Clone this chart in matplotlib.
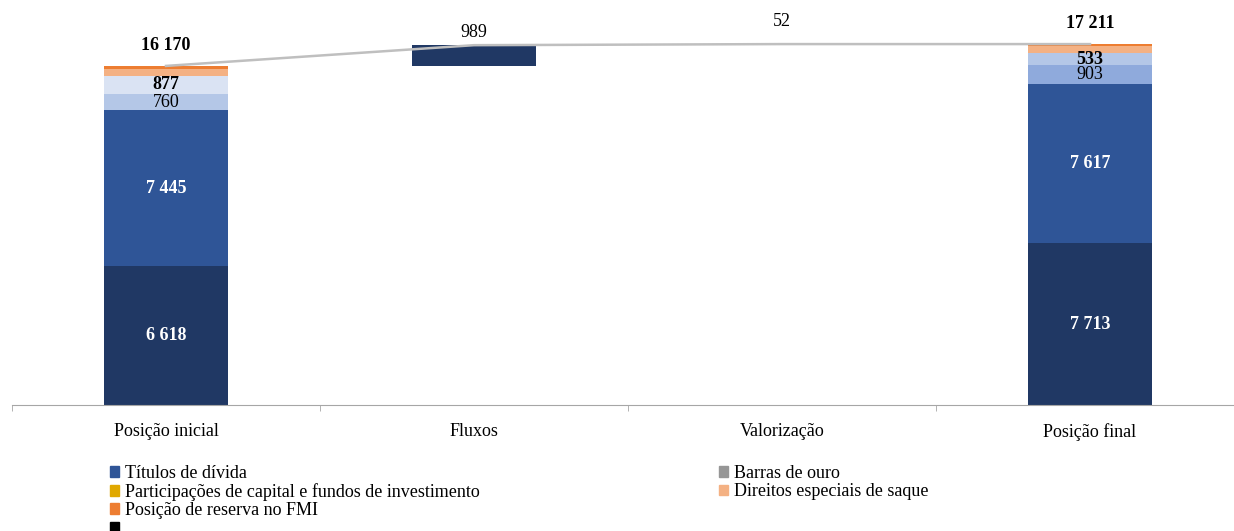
import matplotlib
matplotlib.use("Agg")
import matplotlib.pyplot as plt
from matplotlib.patches import Patch

plt.rcParams['font.family'] = ['Liberation Serif', 'DejaVu Serif']

# dados (milhões)
categorias = ["Posição inicial", "Fluxos", "Valorização", "Posição final"]
pos_inicial = [6618, 7445, 760, 877, 340, 130]
pos_final = [7713, 7617, 903, 533, 345, 100]
fluxos = 989
valorizacao = 52
total_inicial = 16170
total_final = 17211

cores_inicial = ['#203864', '#2F5597', '#B4C7E7', '#DAE3F3', '#F4B183', '#ED7D31']
cores_final = ['#203864', '#2F5597', '#8FAADC', '#B4C7E7', '#F4B183', '#ED7D31']
# (cor do texto, negrito) por segmento; None = sem rótulo
estilo_rotulos = [('white', True), ('white', True), ('black', False),
                  ('black', True), None, None]

legenda_esq = [("Títulos de dívida", '#2F5597'),
               ("Participações de capital e fundos de investimento", '#E0A800'),
               ("Posição de reserva no FMI", '#ED7D31'),
               ("", '#000000')]
legenda_dir = [("Barras de ouro", '#969696'),
               ("Direitos especiais de saque", '#F4B183')]

FS = 13


def fmt(v):
    return f"{v:,}".replace(",", " ")


fig = plt.figure(figsize=(12.34, 5.31), dpi=100)
ax = fig.add_axes([12 / 1234, 126 / 531, 1232 / 1234, 405 / 531])

largura = 0.405


def empilhar(x, valores, cores):
    base = 0
    for v, c, est in zip(valores, cores, estilo_rotulos):
        ax.bar(x, v, largura, bottom=base, color=c, zorder=2)
        if est is not None:
            cor, negrito = est
            ax.text(x, base + v / 2, fmt(v), ha='center', va='center',
                    color=cor, fontsize=FS,
                    fontweight='bold' if negrito else 'normal', zorder=4)
        base += v


empilhar(0, pos_inicial, cores_inicial)
empilhar(3, pos_final, cores_final)

# barras flutuantes
ax.bar(1, fluxos, largura, bottom=total_inicial, color='#203864', zorder=2)
ax.bar(2, valorizacao, largura, bottom=total_inicial + fluxos,
       color='#000000', zorder=2)

# linha de ligação
niveis = [total_inicial, total_inicial + fluxos,
          total_inicial + fluxos + valorizacao, total_final]
ax.plot(range(4), niveis, color='#BFBFBF', lw=1.8, zorder=3)

# rótulos superiores
ax.annotate(fmt(total_inicial), (0, total_inicial), xytext=(0, 15),
            textcoords='offset points', ha='center', va='center',
            fontsize=FS, fontweight='bold')
ax.annotate(fmt(total_final), (3, total_final), xytext=(0, 15),
            textcoords='offset points', ha='center', va='center',
            fontsize=FS, fontweight='bold')
ax.annotate(fmt(fluxos), (1, total_inicial + fluxos), xytext=(0, 9),
            textcoords='offset points', ha='center', va='center', fontsize=FS)
ax.annotate(fmt(valorizacao), (2, total_inicial + fluxos + valorizacao),
            xytext=(0, 16), textcoords='offset points', ha='center',
            va='center', fontsize=FS)

ax.set_xlim(-0.5, 3.5)
ax.set_ylim(0, 405 / 0.02097)
for s in ['top', 'right', 'left']:
    ax.spines[s].set_visible(False)
ax.spines['bottom'].set_color('#A6A6A6')
ax.set_yticks([])
ax.set_xticks(range(4))
ax.set_xticklabels(categorias, fontsize=FS)
ax.tick_params(axis='x', which='major', length=0, pad=13)
ax.set_xticks([-0.5, 0.5, 1.5, 2.5, 3.5], minor=True)
ax.tick_params(axis='x', which='minor', length=4, color='#A6A6A6',
               direction='out')

# legenda em duas colunas desiguais
opts = dict(loc='upper left', frameon=False, fontsize=FS, borderpad=0,
            borderaxespad=0, labelspacing=0.06, handlelength=0.5,
            handleheight=0.5, handletextpad=0.35)
h1 = [Patch(color=c) for _, c in legenda_esq]
fig.legend(h1, [t for t, _ in legenda_esq],
           bbox_to_anchor=(110 / 1234, 1 - 465 / 531), **opts)
h2 = [Patch(color=c) for _, c in legenda_dir]
fig.legend(h2, [t for t, _ in legenda_dir],
           bbox_to_anchor=(719 / 1234, 1 - 465 / 531), **opts)

fig.savefig("out.png", dpi=100)
